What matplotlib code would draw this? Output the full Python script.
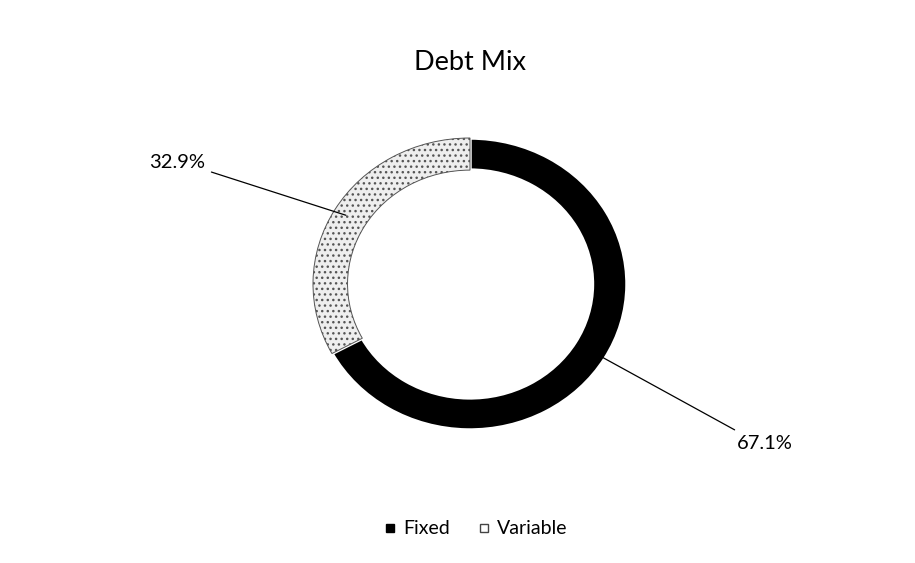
import numpy as np
import matplotlib.pyplot as plt
from matplotlib.lines import Line2D

# Daten
labels = ['Fixed', 'Variable']
values = [67.1, 32.9]
label_texts = ['67.1%', '32.9%']

plt.rcParams['font.family'] = ['Lato', 'DejaVu Sans']

fig = plt.figure(figsize=(9.15, 5.63), dpi=100)
W, H = 915, 563

# Ring in Pixeln: Mitte (470, 284), Radius x 157, y 146
cx, cy, rx, ry = 470, 284, 157, 146
ax = fig.add_axes([(cx - rx) / W, (H - cy - ry) / H, 2 * rx / W, 2 * ry / H])

wedges, _ = ax.pie(values, startangle=90, counterclock=False, radius=1,
                   colors=['black', '#eeeeee'],
                   wedgeprops=dict(width=0.22, edgecolor='white', linewidth=2.5))
# gesprenkelte Fuellung fuer "Variable"
wedges[1].set_hatch('...')
wedges[1].set_edgecolor('#555555')
wedges[1].set_linewidth(0.7)

ax.set_aspect('auto')
ax.set_xlim(-1, 1)
ax.set_ylim(-1, 1)
ax.axis('off')

# Beschriftungen mit Fuehrungslinien
angles = []
start = 90
for v in values:
    angles.append(np.deg2rad(start - v / 100 * 360 / 2))
    start -= v / 100 * 360

text_pos = [(1.70, -1.09), (-1.69, 0.83)]
for i, (txt, ang) in enumerate(zip(label_texts, angles)):
    px, py = 0.92 * np.cos(ang), 0.92 * np.sin(ang)
    tx, ty = text_pos[i]
    ha = 'left' if tx > 0 else 'right'
    angA = 180 if tx > 0 else 0
    ax.annotate(txt, xy=(px, py), xytext=(tx, ty), ha=ha, va='center',
                fontsize=14.5, annotation_clip=False,
                arrowprops=dict(arrowstyle='-', color='black', lw=0.9,
                                shrinkA=3, shrinkB=0,
                                connectionstyle=f'arc,angleA={angA},armA=6,'
                                                'angleB=0,armB=0,rad=0'))

fig.text(cx / W, 1 - 62 / H, 'Debt Mix', ha='center', va='center', fontsize=19.5)

handles = [Line2D([], [], marker='s', linestyle='none', markersize=6,
                  markerfacecolor='black', markeredgecolor='black'),
           Line2D([], [], marker='s', linestyle='none', markersize=6,
                  markerfacecolor='white', markeredgecolor='#444444')]
fig.legend(handles, labels, loc='center', bbox_to_anchor=(475 / W, 1 - 529 / H),
           ncol=2, frameon=False, fontsize=14, handletextpad=0.3,
           columnspacing=1.3, handlelength=0.8)

plt.savefig('out.png', dpi=100)
